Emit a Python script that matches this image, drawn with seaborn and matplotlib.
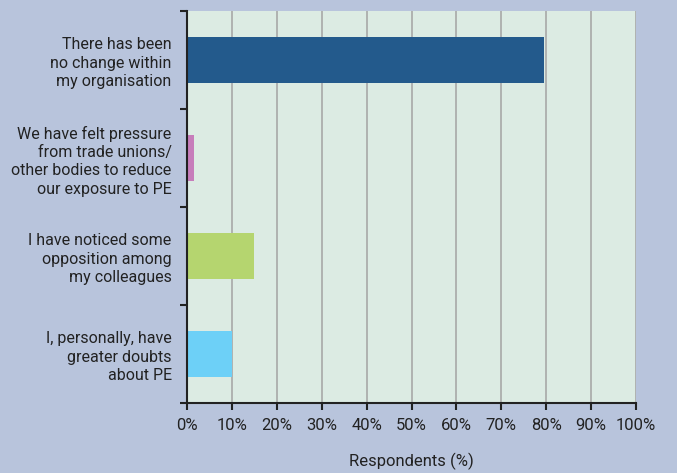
import matplotlib
matplotlib.use("Agg")
import matplotlib.pyplot as plt
import seaborn as sns
import pandas as pd

categories = [
    "There has been\nno change within\nmy organisation",
    "We have felt pressure\nfrom trade unions/\nother bodies to reduce\nour exposure to PE",
    "I have noticed some\nopposition among\nmy colleagues",
    "I, personally, have\ngreater doubts\nabout PE",
]
values = [79.5, 1.5, 15.0, 10.0]
colors = ["#235a8c", "#c77dbb", "#b5d56f", "#6dd0f7"]
xticks = list(range(0, 101, 10))
xticklabels = [f"{t}%" for t in xticks]

sns.set_theme(style="white")
plt.rcParams["font.family"] = ["Roboto", "DejaVu Sans"]

df = pd.DataFrame({"cat": categories, "val": values})

fig = plt.figure(figsize=(6.77, 4.73), dpi=100)
fig.patch.set_facecolor("#b8c4dc")
ax = fig.add_axes([187/677, 1-403/473, (636-187)/677, (403-11)/473])
ax.set_facecolor("#dcebe3")

sns.barplot(data=df, y="cat", x="val", hue="cat", palette=colors, legend=False,
            orient="h", width=0.46, ax=ax, saturation=1, linewidth=0)

ax.set_xlim(0, 100)
ax.set_ylim(3.5, -0.5)
ax.set_xticks(xticks)
ax.set_xticklabels(xticklabels, fontsize=12, color="#222222")
ax.xaxis.grid(True, color="#a8a8a8", linewidth=1.2)
ax.set_axisbelow(True)

ax.set_yticks([i for i in range(len(categories))])
ax.set_yticklabels(categories, fontsize=11.5, color="#222222", multialignment="right",
                   linespacing=1.28)
ax.tick_params(axis="y", which="major", length=0, pad=11, left=False)
ax.set_yticks([-0.5, 0.5, 1.5, 2.5, 3.5], minor=True)
ax.tick_params(axis="y", which="minor", left=True, length=5, width=1.5,
               color="#222222", direction="out")
ax.tick_params(axis="x", bottom=True, length=5, width=1.5, color="#222222",
               direction="out", pad=6)

for s in ["top", "right"]:
    ax.spines[s].set_visible(False)
for s in ["left", "bottom"]:
    ax.spines[s].set_color("#222222")
    ax.spines[s].set_linewidth(1.5)

ax.set_ylabel("")
ax.set_xlabel("Respondents (%)", fontsize=12, color="#222222", labelpad=14)

fig.savefig("out.png", dpi=100, facecolor=fig.get_facecolor())
